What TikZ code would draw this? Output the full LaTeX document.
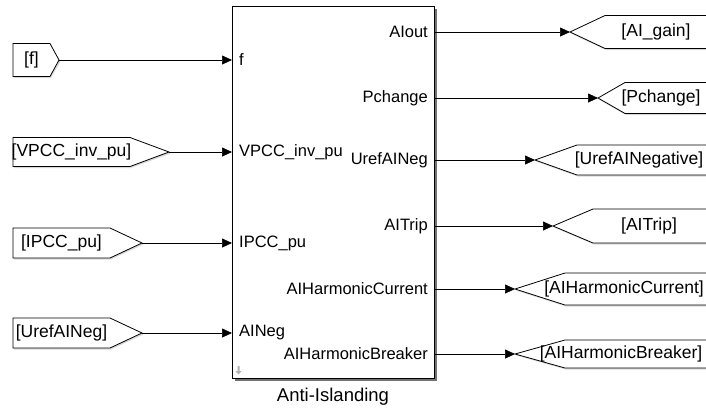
\documentclass[tikz,border=0pt]{standalone}
\usepackage{fontspec}
\setmainfont{Liberation Sans}
\usetikzlibrary{arrows.meta,shadows}
\begin{document}
\begin{tikzpicture}[x=1pt,y=-1pt,
  sig/.style={draw=black, line width=0.7pt, -{Triangle[length=10pt,width=9pt]}},
  tagbox/.style={draw=black, line width=0.8pt, fill=white},
  blockbox/.style={draw=black, line width=1.1pt, fill=white, inner sep=0pt,
    drop shadow={shadow xshift=2.5pt, shadow yshift=-2.5pt, fill=black!55, opacity=1}},
  lbl/.style={font=\fontsize{16.5}{18}\selectfont, inner sep=0pt},
  taglbl/.style={font=\fontsize{17.5}{19}\selectfont, inner sep=0pt}]
\useasboundingbox (0,0) rectangle (706,408);
\clip (0,0) rectangle (706,408);
\fill[white] (0,0) rectangle (706,408);

% main block
\node[blockbox, anchor=north west, minimum width=202pt, minimum height=372pt] (blk) at (232,6) {};
\node[font=\fontsize{18.5}{20}\selectfont, inner sep=0pt] (title) at (333,397) {Anti-Islanding};
% small icon
\fill[black!30] (237.5,366) rectangle (239.5,371) (235.5,371) -- (241.5,371) -- (238.5,374.5) -- cycle;

% input ports
\foreach \n/\t/\y in {pf/f/60, pv/VPCC\_inv\_pu/152, pi/IPCC\_pu/243, pa/AINeg/333}{
  \coordinate (\n) at (232,\y);
  \node[lbl, anchor=west] (\n l) at (239,\y) {\t};
}
% output ports
\foreach \n/\t/\y in {qa/AIout/32, qp/Pchange/98, qu/UrefAINeg/160, qt/AITrip/226, qh/AIHarmonicCurrent/289, qb/AIHarmonicBreaker/354}{
  \coordinate (\n) at (434,\y);
  \node[lbl, anchor=east] (\n l) at (428,\y) {\t};
}

% From blocks: name/text/y/half/rectend/tip
\foreach \n/\t/\y/\h/\r/\p in {ff/[f]/60/16.5/50/59, fv/[VPCC\_inv\_pu]/152/14.5/130/169, fi/[IPCC\_pu]/243/15/110/142, fa/[UrefAINeg]/333/15/110/142}{
  \fill[black!15] (14,\y-\h+2) -- (\r+1,\y-\h+2) -- (\p+1.5,\y+1.5) -- (\r+1,\y+\h+1.5) -- (14,\y+\h+1.5) -- cycle;
  \draw[tagbox] (13,\y-\h) -- (\r,\y-\h) -- (\p,\y) -- (\r,\y+\h) -- (13,\y+\h) -- cycle;
  \coordinate (\n) at (\p,\y);
  \node[taglbl] (\n l) at ({(13+\r)/2},\y) {\t};
}

% Goto blocks: name/text/y/half/rectstart/tip/textcenter
\foreach \n/\t/\y/\h/\r/\p/\c in {ga/[AI\_gain]/32/16.5/605/570/656, gp/[Pchange]/98/15.5/625/598/661, gu/[UrefAINegative]/160/15/577/535/639, gt/[AITrip]/226/17/593/553/649, gh/[AIHarmonicCurrent]/289/16/565/515/624, gb/[AIHarmonicBreaker]/354/14/565/515/621}{
  \fill[black!15] (\p+1,\y+1.5) -- (\r+1,\y-\h+2) -- (712,\y-\h+2) -- (712,\y+\h+1.5) -- (\r+1,\y+\h+1.5) -- cycle;
  \draw[tagbox] (\p,\y) -- (\r,\y-\h) -- (710,\y-\h) -- (710,\y+\h) -- (\r,\y+\h) -- cycle;
  \coordinate (\n) at (\p,\y);
  \node[taglbl] (\n l) at (\c,\y) {\t};
}

% connectors
\draw[sig] (ff) -- (pf);
\draw[sig] (fv) -- (pv);
\draw[sig] (fi) -- (pi);
\draw[sig] (fa) -- (pa);
\draw[sig] (qa) -- (ga);
\draw[sig] (qp) -- (gp);
\draw[sig] (qu) -- (gu);
\draw[sig] (qt) -- (gt);
\draw[sig] (qh) -- (gh);
\draw[sig] (qb) -- (gb);
\end{tikzpicture}
\end{document}
